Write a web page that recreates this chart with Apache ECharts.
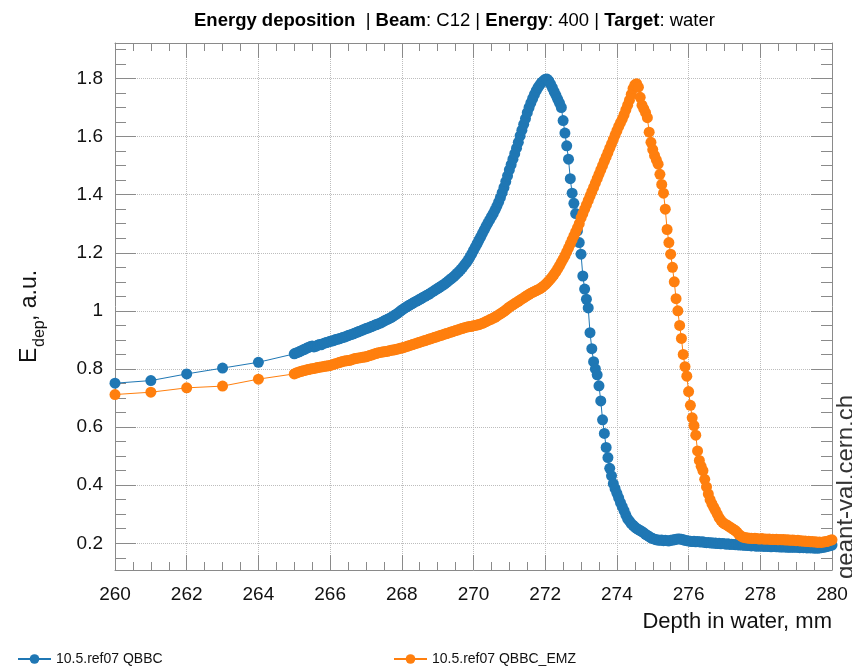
<!DOCTYPE html>
<html><head><meta charset="utf-8">
<script src="https://cdn.jsdelivr.net/npm/echarts@6/dist/echarts.min.js"></script>
<style>html,body{margin:0;padding:0;background:#fff}#c{width:852px;height:670px}</style>
</head><body><div id="c"></div>
<script>
// ---------- data ----------
const coarseDepth = [260, 261, 262, 263, 264];
const qbbcCoarse = [0.751, 0.760, 0.783, 0.803, 0.823];
const emzCoarse  = [0.712, 0.720, 0.735, 0.741, 0.765];

// fine scan: 265.00 .. 280.00 mm in 0.05 mm bins (one row per mm)
const fineStart = 265.0, fineStep = 0.05;
const qbbcFine = [
  0.852,0.855,0.857,0.860,0.863,0.866,0.868,0.872,0.874,0.877,0.879,0.876,0.878,0.882,0.884,0.883,0.887,0.889,0.891,0.893,
  0.895,0.896,0.898,0.901,0.902,0.904,0.906,0.908,0.910,0.912,0.915,0.917,0.919,0.921,0.924,0.926,0.929,0.931,0.934,0.936,
  0.939,0.941,0.943,0.946,0.948,0.951,0.953,0.956,0.958,0.961,0.965,0.968,0.971,0.974,0.977,0.981,0.985,0.989,0.993,0.998,
  1.003,1.007,1.011,1.015,1.019,1.022,1.026,1.030,1.033,1.036,1.040,1.043,1.047,1.050,1.054,1.057,1.061,1.065,1.069,1.073,
  1.077,1.081,1.085,1.089,1.093,1.098,1.103,1.108,1.113,1.118,1.124,1.130,1.136,1.143,1.150,1.158,1.166,1.175,1.185,1.196,
  1.208,1.219,1.231,1.243,1.255,1.267,1.279,1.291,1.302,1.313,1.324,1.335,1.347,1.360,1.374,1.390,1.407,1.425,1.445,1.465,
  1.485,1.503,1.522,1.541,1.560,1.580,1.602,1.622,1.642,1.662,1.682,1.700,1.716,1.731,1.745,1.758,1.769,1.778,1.786,1.792,
  1.797,1.798,1.792,1.780,1.768,1.755,1.742,1.728,1.715,1.700,1.655,1.612,1.568,1.522,1.455,1.405,1.370,1.335,1.275,1.235,
  1.195,1.120,1.075,1.040,1.010,0.925,0.870,0.825,0.800,0.780,0.742,0.690,0.625,0.578,0.530,0.495,0.458,0.432,0.405,0.388,
  0.372,0.356,0.340,0.326,0.312,0.297,0.284,0.276,0.268,0.262,0.256,0.251,0.247,0.244,0.240,0.236,0.231,0.227,0.223,0.219,
  0.216,0.214,0.212,0.211,0.210,0.211,0.209,0.210,0.209,0.208,0.210,0.211,0.212,0.214,0.215,0.215,0.214,0.212,0.210,0.209,
  0.208,0.207,0.206,0.207,0.205,0.206,0.205,0.204,0.205,0.203,0.202,0.203,0.201,0.202,0.200,0.201,0.199,0.200,0.198,0.199,
  0.198,0.197,0.198,0.196,0.197,0.196,0.195,0.196,0.194,0.195,0.194,0.193,0.194,0.192,0.193,0.191,0.192,0.191,0.190,0.191,
  0.190,0.191,0.189,0.190,0.189,0.190,0.188,0.189,0.190,0.188,0.189,0.187,0.188,0.187,0.188,0.186,0.187,0.186,0.187,0.186,
  0.187,0.186,0.185,0.186,0.185,0.186,0.184,0.185,0.184,0.185,0.183,0.184,0.183,0.184,0.185,0.186,0.187,0.189,0.190,0.192,
  0.194
];
const emzFine = [
  0.783,0.786,0.788,0.790,0.792,0.794,0.795,0.797,0.798,0.800,0.801,0.802,0.803,0.805,0.806,0.807,0.808,0.809,0.810,0.811,
  0.812,0.814,0.816,0.818,0.820,0.822,0.824,0.826,0.827,0.828,0.829,0.830,0.832,0.834,0.836,0.837,0.838,0.839,0.840,0.841,
  0.842,0.844,0.846,0.848,0.850,0.852,0.854,0.856,0.857,0.858,0.859,0.860,0.861,0.863,0.864,0.865,0.866,0.868,0.869,0.871,
  0.872,0.874,0.876,0.878,0.880,0.882,0.884,0.886,0.888,0.890,0.892,0.894,0.896,0.898,0.900,0.902,0.904,0.906,0.908,0.910,
  0.912,0.914,0.916,0.918,0.920,0.922,0.924,0.926,0.928,0.930,0.932,0.934,0.936,0.938,0.940,0.942,0.944,0.945,0.946,0.947,
  0.949,0.950,0.951,0.953,0.955,0.957,0.960,0.963,0.966,0.969,0.972,0.975,0.978,0.982,0.986,0.990,0.994,0.998,1.003,1.008,
  1.013,1.017,1.021,1.025,1.029,1.033,1.037,1.041,1.045,1.049,1.053,1.057,1.061,1.064,1.067,1.070,1.073,1.076,1.080,1.085,
  1.090,1.096,1.103,1.110,1.118,1.126,1.135,1.145,1.156,1.167,1.178,1.190,1.203,1.216,1.230,1.244,1.258,1.272,1.286,1.300,
  1.320,1.335,1.350,1.365,1.380,1.395,1.410,1.425,1.440,1.455,1.470,1.485,1.500,1.515,1.530,1.545,1.560,1.575,1.590,1.605,
  1.620,1.635,1.648,1.660,1.675,1.692,1.708,1.725,1.745,1.765,1.778,1.782,1.770,1.735,1.708,1.695,1.682,1.665,1.615,1.580,
  1.555,1.535,1.520,1.505,1.470,1.435,1.405,1.350,1.280,1.235,1.195,1.150,1.100,1.042,1.000,0.950,0.905,0.850,0.808,0.775,
  0.722,0.675,0.632,0.605,0.572,0.518,0.485,0.465,0.450,0.420,0.394,0.370,0.350,0.336,0.324,0.313,0.300,0.288,0.279,0.272,
  0.267,0.264,0.260,0.256,0.252,0.248,0.244,0.238,0.231,0.226,0.222,0.220,0.219,0.218,0.217,0.217,0.216,0.217,0.216,0.215,
  0.215,0.216,0.214,0.215,0.214,0.215,0.213,0.214,0.213,0.214,0.212,0.213,0.212,0.213,0.211,0.212,0.211,0.210,0.211,0.210,
  0.209,0.210,0.208,0.209,0.207,0.208,0.206,0.207,0.205,0.206,0.204,0.205,0.203,0.204,0.203,0.204,0.205,0.206,0.208,0.210,
  0.212
];
const seriesNames = ['10.5.ref07 QBBC', '10.5.ref07 QBBC_EMZ'];
const yMajorTicks = [0.2, 0.4, 0.6, 0.8, 1.0, 1.2, 1.4, 1.6, 1.8];
const yMinorTicks = [0.15,0.25,0.3,0.35,0.45,0.5,0.55,0.65,0.7,0.75,0.85,0.9,0.95,1.05,1.1,1.15,1.25,1.3,1.35,1.45,1.5,1.55,1.65,1.7,1.75,1.85,1.9];
const xRange = [260, 280];
const yRange = [0.108, 1.922];

// ---------- chart ----------
function buildPoints(coarse, fine) {
  const pts = coarseDepth.map((d, i) => [d, coarse[i]]);
  fine.forEach((v, i) => pts.push([+(fineStart + i * fineStep).toFixed(2), v]));
  return pts;
}
const FONT = "'Liberation Sans', Arial, Helvetica, sans-serif";
const AX = '#8a8a8a';
const COLORS = ['#1f77b4', '#ff7f0e'];

const chart = echarts.init(document.getElementById('c'), null, {renderer: 'canvas'});

function xAx(pos, labels) {
  return {
    type: 'value', position: pos, min: xRange[0], max: xRange[1], interval: 2,
    axisLine: {show: true, onZero: false, lineStyle: {color: AX, width: 1}},
    axisTick: {show: true, inside: true, length: 15, lineStyle: {color: AX}},
    minorTick: {show: true, splitNumber: 4, length: 8, lineStyle: {color: AX}},
    axisLabel: {show: labels, margin: 15, fontSize: 19, color: '#111', fontFamily: FONT, showMinLabel: true, showMaxLabel: true, hideOverlap: false},
    splitLine: {show: labels, lineStyle: {color: '#bdbdbd', type: 'dotted', width: 1}},
    minorSplitLine: {show: false}
  };
}
function yAx(pos, ticks, len, main) {
  return {
    type: 'value', position: pos, offset: 0, min: yRange[0], max: yRange[1],
    axisLine: {show: main, onZero: false, lineStyle: {color: AX, width: 1}},
    axisTick: {show: true, inside: true, length: len, customValues: ticks, lineStyle: {color: AX}},
    axisLabel: main && pos === 'left'
      ? {show: true, customValues: yMajorTicks, margin: 12, fontSize: 19, color: '#111', fontFamily: FONT,
         formatter: v => String(+v.toFixed(2))}
      : {show: false},
    splitLine: {show: main && pos === 'left', lineStyle: {color: '#bdbdbd', type: 'dotted', width: 1}},
    minorTick: {show: false}
  };
}

chart.setOption({
  animation: false,
  backgroundColor: '#fff',
  title: {
    text: '{b|Energy deposition}  | {b|Beam}: C12 | {b|Energy}: 400 | {b|Target}: water',
    left: 189, top: 6,
    textStyle: {fontSize: 18.5, fontWeight: 'normal', color: '#000', fontFamily: FONT,
      rich: {b: {fontSize: 18.5, fontWeight: 'bold', color: '#000', fontFamily: FONT}}}
  },
  grid: {left: 115, right: 20, top: 43, bottom: 100, containLabel: false, outerBoundsMode: 'none'},
  xAxis: [xAx('bottom', true), xAx('top', false)],
  yAxis: [
    yAx('left', yMajorTicks, 21, true),
    yAx('left', yMinorTicks, 11, false),
    yAx('right', yMajorTicks, 21, true),
    yAx('right', yMinorTicks, 11, false)
  ],
  legend: [
    {data: [seriesNames[0]], left: 12, top: 647, itemWidth: 33, itemHeight: 12, itemGap: 6,
     textStyle: {fontSize: 14, color: '#111', fontFamily: FONT}},
    {data: [seriesNames[1]], left: 388, top: 647, itemWidth: 33, itemHeight: 12, itemGap: 6,
     textStyle: {fontSize: 14, color: '#111', fontFamily: FONT}}
  ],
  series: [
    {name: seriesNames[0], type: 'line', xAxisIndex: 0, yAxisIndex: 0, data: buildPoints(qbbcCoarse, qbbcFine),
     symbol: 'circle', symbolSize: 11, showSymbol: true, showAllSymbol: true, sampling: null,
     itemStyle: {color: COLORS[0]}, lineStyle: {color: COLORS[0], width: 1}, z: 3},
    {name: seriesNames[1], type: 'line', xAxisIndex: 0, yAxisIndex: 0, data: buildPoints(emzCoarse, emzFine),
     symbol: 'circle', symbolSize: 11, showSymbol: true, showAllSymbol: true, sampling: null,
     itemStyle: {color: COLORS[1]}, lineStyle: {color: COLORS[1], width: 1}, z: 4}
  ],
  graphic: [
    {type: 'text', x: 832, y: 622, style: {text: 'Depth in water, mm', fontSize: 22, fill: '#111', fontFamily: FONT, align: 'right', verticalAlign: 'middle'}},
    {type: 'text', x: 30, y: 363, rotation: Math.PI / 2, style: {text: 'E', fontSize: 23, fill: '#111', fontFamily: FONT, align: 'left', verticalAlign: 'middle'}},
    {type: 'text', x: 40, y: 347, rotation: Math.PI / 2, style: {text: 'dep', fontSize: 16, fill: '#111', fontFamily: FONT, align: 'left', verticalAlign: 'middle'}},
    {type: 'text', x: 30, y: 321, rotation: Math.PI / 2, style: {text: ', a.u.', fontSize: 23, fill: '#111', fontFamily: FONT, align: 'left', verticalAlign: 'middle'}},
    {type: 'text', x: 846, y: 579, rotation: Math.PI / 2, style: {text: 'geant-val.cern.ch', fontSize: 24, fill: '#333', fontFamily: FONT, align: 'left', verticalAlign: 'middle'}}
  ]
});
</script></body></html>
